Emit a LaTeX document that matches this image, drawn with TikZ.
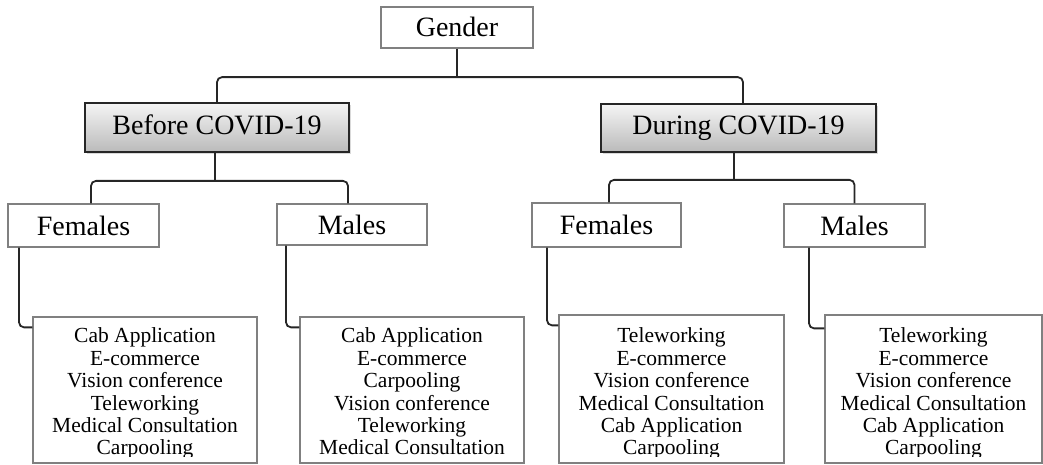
\documentclass[tikz,border=0pt]{standalone}
\usepackage{fontspec}
\setmainfont{Liberation Serif}
\usetikzlibrary{shadows}
\begin{document}
\begin{tikzpicture}[x=1pt,y=-1pt,
  conn/.style={draw=black!85, line width=1.8pt, rounded corners=5pt},
  plainbox/.style={draw=black!50, line width=1.3pt, fill=white, inner sep=0pt,
    font=\fontsize{28}{30}\selectfont, text height=19pt, text depth=0pt},
  headbox/.style={draw=black!85, line width=1.8pt, top color=black!4, bottom color=black!27,
    inner sep=0pt, drop shadow={opacity=0.3, shadow xshift=1.5pt, shadow yshift=-2.5pt},
    font=\fontsize{28}{30}\selectfont, text height=19pt, text depth=5pt},
  listbox/.style={draw=black!50, line width=1.3pt, inner sep=0pt},
  listtext/.style={align=center, inner sep=0pt, font=\fontsize{21.5}{22.4}\selectfont}]
\useasboundingbox (0,0) rectangle (1043,465);

\node[plainbox, minimum width=152pt, minimum height=41pt] (gender) at (457,27.5) {Gender};
\node[headbox, minimum width=264pt, minimum height=49pt] (before) at (217,127.5) {Before COVID-19};
\node[headbox, minimum width=275pt, minimum height=48pt] (during) at (738.5,128) {During COVID-19};
\node[plainbox, minimum width=151pt, minimum height=43pt] (f1) at (83.5,225.5) {Females};
\node[plainbox, minimum width=150pt, minimum height=41pt] (m1) at (352,224.5) {Males};
\node[plainbox, minimum width=149pt, minimum height=44pt] (f2) at (606.5,225) {Females};
\node[plainbox, minimum width=141pt, minimum height=43pt] (m2) at (854.5,225.5) {Males};

\node[listbox, minimum width=224pt, minimum height=146pt] (l1) at (145,390) {};
\node[listbox, minimum width=224pt, minimum height=146pt] (l2) at (412,390) {};
\node[listbox, minimum width=225pt, minimum height=148pt] (l3) at (671.5,389) {};
\node[listbox, minimum width=217pt, minimum height=148pt] (l4) at (933.5,389) {};

\coordinate (gj) at ([yshift=-28.5pt]gender.south);
\draw[conn] (gender.south) -- (gj);
\draw[conn] (before.north) |- (gj) -| ([xshift=4.5pt]during.north);

\coordinate (bj) at ([xshift=-2pt,yshift=-28pt]before.south);
\draw[conn] ([xshift=-2pt]before.south) -- (bj);
\draw[conn] ([xshift=7.5pt]f1.north) |- (bj) -| ([xshift=-4pt]m1.north);

\coordinate (dj) at ([xshift=-4.5pt,yshift=-27pt]during.south);
\draw[conn] ([xshift=-4.5pt]during.south) -- (dj);
\draw[conn] ([xshift=2.5pt]f2.north) |- (dj) -| (m2.north);

\draw[conn] ([xshift=-64.5pt]f1.south) |- ([yshift=-11pt]l1.north west);
\draw[conn] ([xshift=-66pt]m1.south) |- ([yshift=-11pt]l2.north west);
\draw[conn] ([xshift=-59.5pt]f2.south) |- ([yshift=-11pt]l3.north west);
\draw[conn] ([xshift=-45.5pt]m2.south) |- ([yshift=-14pt]l4.north west);

\begin{scope}
\clip (l1.north west) rectangle ([yshift=7.5pt]l1.south east);
\node[listtext, anchor=north] (t1) at ([yshift=-11.5pt]l1.north)
  {Cab Application\\E-commerce\\Vision conference\\Teleworking\\Medical Consultation\\Carpooling};
\end{scope}
\begin{scope}
\clip (l2.north west) rectangle ([yshift=7.5pt]l2.south east);
\node[listtext, anchor=north] (t2) at ([yshift=-11.5pt]l2.north)
  {Cab Application\\E-commerce\\Carpooling\\Vision conference\\Teleworking\\Medical Consultation};
\end{scope}
\begin{scope}
\clip (l3.north west) rectangle ([yshift=7.5pt]l3.south east);
\node[listtext, anchor=north] (t3) at ([yshift=-13.5pt]l3.north)
  {Teleworking\\E-commerce\\Vision conference\\Medical Consultation\\Cab Application\\Carpooling};
\end{scope}
\begin{scope}
\clip (l4.north west) rectangle ([yshift=7.5pt]l4.south east);
\node[listtext, anchor=north] (t4) at ([yshift=-13.5pt]l4.north)
  {Teleworking\\E-commerce\\Vision conference\\Medical Consultation\\Cab Application\\Carpooling};
\end{scope}
\end{tikzpicture}
\end{document}
